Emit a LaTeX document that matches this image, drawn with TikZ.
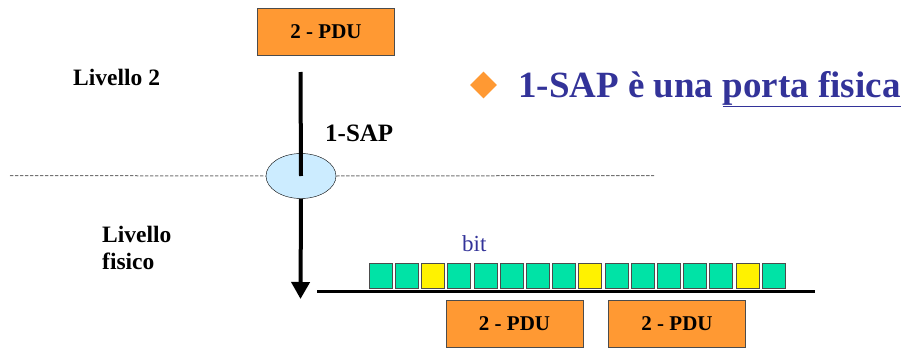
\documentclass[tikz,border=0pt]{standalone}
\usepackage{fontspec}
\setmainfont{Liberation Serif}
\usetikzlibrary{arrows.meta,shapes.geometric}

\definecolor{pduorange}{RGB}{255,153,51}
\definecolor{bitgreen}{RGB}{0,227,166}
\definecolor{sapblue}{RGB}{204,236,255}
\definecolor{textblue}{RGB}{51,51,153}

\tikzset{
  pdu/.style={draw=black!70, fill=pduorange, minimum width=137pt,
    minimum height=47pt, inner sep=0pt,
    font=\fontsize{21}{25}\selectfont\bfseries},
  lbl/.style={inner sep=0pt, align=left,
    font=\fontsize{23.5}{27}\selectfont\bfseries},
  bitbox/.style={draw=black!70, minimum width=23pt, minimum height=25pt,
    inner sep=0pt},
}

\begin{document}
\begin{tikzpicture}[x=1pt,y=-1pt]
    \useasboundingbox (0,0) rectangle (908,348);

    % Important coordinates are defined
    \coordinate (dashL) at (10,175.5);
    \coordinate (dashR) at (654,175.5);
    \coordinate (arrtop) at (300.5,72);
    \coordinate (arrbot) at (300.5,299);
    \coordinate (wireL) at (317,291);
    \coordinate (wireR) at (815,291);

    % level 2 side
    \node[pdu] (pdutop) at (326,31.5) {2 - PDU};
    \node[lbl, anchor=base west] (liv2) at (73,85) {Livello 2};
    \node[lbl, anchor=base west, font=\fontsize{25}{27}\selectfont\bfseries]
        (saplbl) at (325,141) {1-SAP};

    % the access point on the boundary
    \node[ellipse, draw, fill=sapblue, minimum width=70pt, minimum height=45pt,
        inner sep=0pt] (sap) at (301,176) {};
    \draw[black!55, line width=1pt, dash pattern=on 3.3pt off 1.7pt] (dashL) -- (sap.west);
    \draw[black!55, line width=1pt, dash pattern=on 3.3pt off 1.7pt] (sap.east) -- (dashR);
    \draw[line width=4pt] (arrtop) -- (sap.center);
    \draw[line width=4pt, -{Triangle[length=17pt,width=18pt]}] (sap.south) -- (arrbot);

    % physical level
    \node[lbl, anchor=north west] (livfis) at (102,226) {Livello\\fisico};
    \node[inner sep=0pt, anchor=base west, text=textblue,
        font=\fontsize{23}{26}\selectfont] (bitlbl) at (462,251) {bit};
    \foreach \c [count=\i from 0] in {bitgreen,bitgreen,yellow,bitgreen,bitgreen,
        bitgreen,bitgreen,bitgreen,yellow,bitgreen,bitgreen,bitgreen,bitgreen,
        bitgreen,yellow,bitgreen}
        \node[bitbox, fill=\c] (b\i) at ({380.5+26.2*\i},275.5) {};
    \draw[line width=3pt] (wireL) -- (wireR);
    \node[pdu] (pdua) at (514.5,323.5) {2 - PDU};
    \node[pdu] (pdub) at (677,323.5) {2 - PDU};

    % bullet text
    \node[diamond, fill=pduorange, minimum width=27pt, minimum height=27pt,
        inner sep=0pt] (bullet) at (483.5,85) {};
    \node[inner sep=0pt, anchor=base west, text=textblue,
        font=\fontsize{37}{40}\selectfont\bfseries] (title) at (518,97)
        {1-SAP è una \underline{porta fisica}};
\end{tikzpicture}
\end{document}
